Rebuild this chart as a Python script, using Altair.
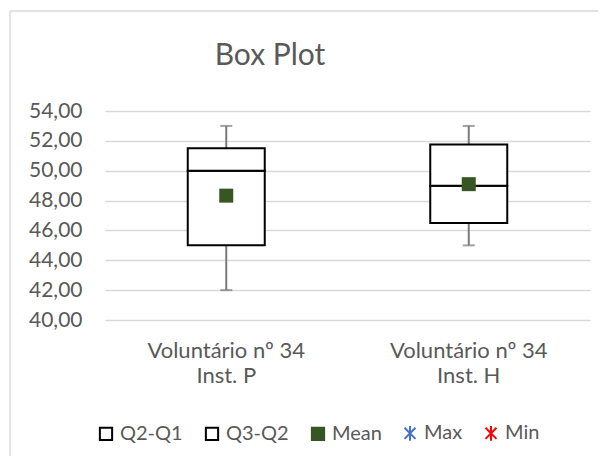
import altair as alt
import pandas as pd

categories = ["Voluntário nº 34|Inst. P", "Voluntário nº 34|Inst. H"]
q1 = [45.0, 46.5]
median = [50.0, 49.0]
q3 = [51.5, 51.75]
mean = [48.33, 49.1]
maxv = [53.0, 53.0]
minv = [42.0, 45.0]
y_ticks = [40, 42, 44, 46, 48, 50, 52, 54]

series = ["Q2-Q1", "Q3-Q2", "Mean", "Max", "Min"]
series_fill = ["white", "white", "#375623", "transparent", "transparent"]
series_stroke = ["black", "black", "#375623", "#4472C4", "#FF0000"]
STAR = "M-0.9,-0.9L0.9,0.9M-0.9,0.9L0.9,-0.9M0,-1.2L0,1.2"
series_shape = ["square", "square", "square", STAR, STAR]
title_text = ["Box Plot"]

df = pd.DataFrame({"cat": categories, "q1": q1, "median": median, "q3": q3,
                   "mean": mean, "max": maxv, "min": minv})
leg = pd.DataFrame({"series": series, "v": [None] * len(series)})

FONT = "Lato"
GREY = "#595959"

x = alt.X("cat:N", sort=categories, scale=alt.Scale(paddingInner=0, paddingOuter=0),
          axis=alt.Axis(title=None, labelExpr="split(datum.label, '|')", labelAngle=0,
                        ticks=False, domain=False, labelPadding=20, labelFontSize=22,
                        labelColor=GREY, labelFont=FONT, labelLineHeight=25))
yscale = alt.Scale(domain=[40, 54], nice=False, zero=False)
yaxis = alt.Axis(title=None, values=y_ticks,
                 labelExpr="replace(format(datum.value, '.2f'), '.', ',')",
                 ticks=False, domain=False, grid=True, gridColor="#d9d9d9", gridWidth=1.5,
                 labelPadding=23, labelFontSize=21, labelColor=GREY, labelFont=FONT,
                 labelOverlap=False)


def Y(field):
    return alt.Y(field, scale=yscale, axis=yaxis)


base = alt.Chart(df)

whisker = base.mark_rule(color="#7a7a7a", strokeWidth=2).encode(
    x=x, y=Y("min:Q"), y2="max:Q")
cap_top = base.mark_tick(color="#7a7a7a", thickness=2, size=12).encode(
    x=x, y=Y("max:Q"))
cap_bot = base.mark_tick(color="#7a7a7a", thickness=2, size=12).encode(
    x=x, y=Y("min:Q"))
box_lo = base.mark_bar(fill="white", stroke="black", strokeWidth=2, size=77).encode(
    x=x, y=Y("q1:Q"), y2="median:Q")
box_hi = base.mark_bar(fill="white", stroke="black", strokeWidth=2, size=77).encode(
    x=x, y=Y("median:Q"), y2="q3:Q")
mean_pt = base.mark_square(color="#375623", size=196, opacity=1).encode(
    x=x, y=Y("mean:Q"))

legend = alt.Legend(title=None, orient="none", direction="horizontal",
                    legendX=-9, legendY=312, labelFontSize=20, labelColor=GREY,
                    labelFont=FONT, symbolSize=150, symbolStrokeWidth=2,
                    columnPadding=18, labelOffset=4)
legend_layer = alt.Chart(leg).mark_point(filled=False, opacity=1).encode(
    y=Y("v:Q"),
    shape=alt.Shape("series:N", scale=alt.Scale(domain=series, range=series_shape), legend=legend),
    fill=alt.Fill("series:N", scale=alt.Scale(domain=series, range=series_fill), legend=legend),
    stroke=alt.Stroke("series:N", scale=alt.Scale(domain=series, range=series_stroke), legend=legend),
)

frame_data = alt.Data(values=[{"a": 1}])
frame_left = alt.Chart(frame_data).mark_rule(color="#d9d9d9", strokeWidth=1.5).encode(
    x=alt.value(-95), y=alt.value(-100), y2=alt.value(420))
frame_top = alt.Chart(frame_data).mark_rule(color="#d9d9d9", strokeWidth=1.5).encode(
    x=alt.value(-95), x2=alt.value(600), y=alt.value(-100))

title = alt.Chart(pd.DataFrame({"t": title_text})).mark_text(
    font=FONT, fontSize=30, color=GREY, align="center", baseline="middle").encode(
    text="t:N", x=alt.value(165), y=alt.value(-55))

chart = alt.layer(frame_left, frame_top, title, whisker, cap_top, cap_bot, box_lo, box_hi,
                  mean_pt, legend_layer).properties(
    width=485, height=209,
    background="white",
    autosize=alt.AutoSizeParams(type="none"),
    padding={"left": 97, "top": 103, "right": 8, "bottom": 136},
).configure_view(stroke="transparent", strokeWidth=0)

chart.save("out.html", embed_options={"renderer": "svg", "actions": False})
